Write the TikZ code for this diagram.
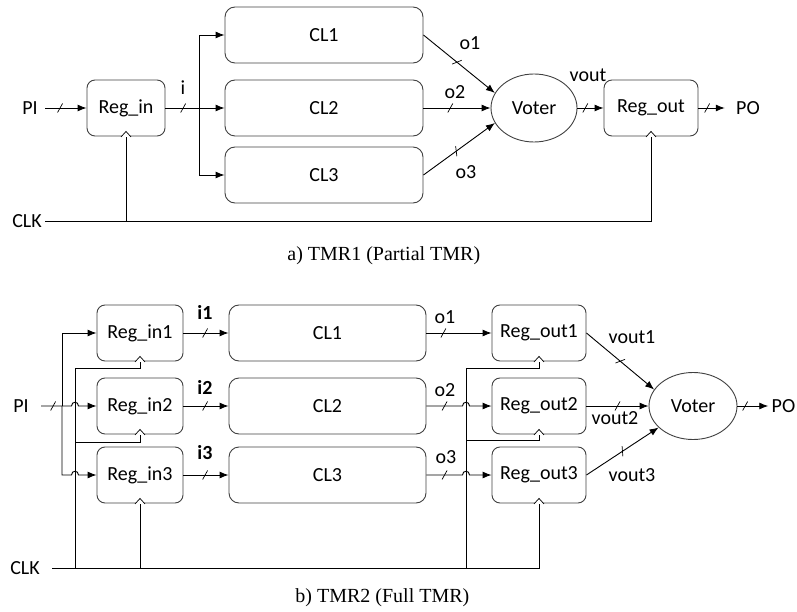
\documentclass[tikz,border=0pt]{standalone}
\usepackage{fontspec}
\setmainfont{Carlito}
\newfontfamily\capfont{Liberation Serif}
\usetikzlibrary{arrows.meta}
\usetikzlibrary{shapes.geometric}
\usetikzlibrary{decorations.markings}

\tikzset{
  reg/.style={draw=black!75, rounded corners=8pt, minimum height=56pt, inner sep=0pt},
  logic/.style={draw=black!75, rounded corners=10pt, minimum width=198pt, minimum height=56pt, inner sep=0pt},
  voter/.style={ellipse, draw=black!75, inner sep=0pt},
  io/.style={inner sep=3pt},
  arr/.style={-{Latex[length=9pt,width=7pt]}},
  busmark/.style={postaction={decorate,decoration={markings,
      mark=at position #1 with {\draw[-,line width=0.7pt] (-2.5pt,-4.5pt) -- (2.5pt,4.5pt);}}}},
  caption/.style={anchor=west, inner sep=0pt, font=\capfont\fontsize{20}{24}\selectfont}
}
\newcommand\clkin[1]{\draw[line width=0.7pt, fill=white] ([xshift=-5pt,yshift=-0.5pt]#1.south) -- ([yshift=5pt]#1.south) -- ([xshift=5pt,yshift=-0.5pt]#1.south);}

\begin{document}
\begin{tikzpicture}[x=1pt, y=-1pt, line width=0.9pt, font=\fontsize{20}{24}\selectfont]
          \useasboundingbox (0,0) rectangle (797,612);

          % a) TMR1
          \node[reg, minimum width=78pt] (regin) at (126,108) {Reg\_in};
          \node[logic] (cl1a) at (324,35) {CL1};
          \node[logic] (cl2a) at (324,108) {CL2};
          \node[logic] (cl3a) at (324,175) {CL3};
          \node[voter, minimum width=86pt, minimum height=68pt] (vota) at (534,108) {Voter};
          \node[reg, minimum width=94pt] (regouta) at (651,108) {Reg\_out};

          \node[io] (pia) at (30,108) {PI};
          \node[io] (clka) at (27,221) {CLK};
          \node[io] (poa) at (748,108) {PO};

          \node (ia) at (183,88) {i};
          \node (o1a) at (470,43) {o1};
          \node (o2a) at (455,92) {o2};
          \node (o3a) at (466,172) {o3};
          \node (vouta) at (588,75) {vout};

          \draw[arr, busmark=0.36] ([xshift=4pt]pia.east) -- (regin.west);
          \draw[arr, busmark=0.3] (regin.east) -- (cl2a.west);
          \coordinate (bra) at (199,108);
          \draw[arr] (bra) |- (cl1a.west);
          \draw[arr] (bra) |- (cl3a.west);

          \draw[arr, busmark=0.47] (cl1a.east) -- (vota.159);
          \draw[arr, busmark=0.4] (cl2a.east) -- (vota.west);
          \draw[arr, busmark=0.46] (cl3a.east) -- (vota.201);
          \draw[arr, busmark=0.3] (vota.east) -- (regouta.west);
          \draw[arr, busmark=0.33] (regouta.east) -- ([xshift=-8pt]poa.west);

          \draw (clka.east) -| (regouta.south);
          \draw (regin.south) -- (regin.south |- clka.east);
          \clkin{regin}
          \clkin{regouta}

          \node[caption] (capa) at (287,256) {a) TMR1 (Partial TMR)};

          % b) TMR2
          \node[reg, minimum width=86pt] (regi1) at (140,333) {Reg\_in1};
          \node[reg, minimum width=86pt] (regi2) at (140,406) {Reg\_in2};
          \node[reg, minimum width=86pt] (regi3) at (140,475) {Reg\_in3};
          \node[logic, minimum width=197pt] (cl1) at (327.5,333) {CL1};
          \node[logic, minimum width=197pt] (cl2) at (327.5,406) {CL2};
          \node[logic, minimum width=197pt] (cl3) at (327.5,475) {CL3};
          \node[reg, minimum width=94pt] (rego1) at (539,333) {Reg\_out1};
          \node[reg, minimum width=94pt] (rego2) at (539,406) {Reg\_out2};
          \node[reg, minimum width=94pt] (rego3) at (539,475) {Reg\_out3};
          \node[voter, minimum width=88pt, minimum height=67pt] (votb) at (693,406) {Voter};

          \node[io] (pib) at (21,406) {PI};
          \node[io] (clkb) at (25,568) {CLK};
          \node[io] (pob) at (783.5,406) {PO};

          \node (i1) at (205,312) {\textbf{i1}};
          \node (i2) at (205,387) {\textbf{i2}};
          \node (i3) at (205,453) {\textbf{i3}};
          \node (o1) at (445,317) {o1};
          \node (o2) at (445,390) {o2};
          \node (o3) at (446,457) {o3};
          \node (vout1) at (632,337) {vout1};
          \node (vout2) at (615,418) {vout2};
          \node (vout3) at (632,475) {vout3};

          \coordinate (brb) at (62,406);
          \draw[arr, busmark=0.2] ([xshift=9pt]pib.east) -- (71.5,406)
          .. controls (71.5,401) and (78.5,401) .. (78.5,406) -- (regi2.west);
          \draw[arr] (brb) |- (regi1.west);
          \draw[arr] (brb) -- (62,475) -- (71.5,475)
          .. controls (71.5,470) and (78.5,470) .. (78.5,475) -- (regi3.west);

          \draw[arr, busmark=0.48] (regi1.east) -- (cl1.west);
          \draw[arr, busmark=0.48] (regi2.east) -- (cl2.west);
          \draw[arr, busmark=0.48] (regi3.east) -- (cl3.west);

          \draw[arr, busmark=0.26] (cl1.east) -- (rego1.west);
          \draw[arr, busmark=0.26] (cl2.east) -- (462.5,406)
          .. controls (462.5,401) and (469.5,401) .. (469.5,406) -- (rego2.west);
          \draw[arr, busmark=0.26] (cl3.east) -- (462.5,475)
          .. controls (462.5,470) and (469.5,470) .. (469.5,475) -- (rego3.west);

          \draw[arr, busmark=0.5] (rego1.east) -- (votb.157);
          \draw[arr, busmark=0.5] (rego2.east) -- (votb.west);
          \draw[arr, busmark=0.5] (rego3.east) -- (votb.212);
          \draw[arr, busmark=0.25] (votb.east) -- (pob.west);

          % clock tree
          \coordinate (ckb1) at (75,568);
          \coordinate (ckb2) at (75,442);
          \coordinate (cko1) at (466,568);
          \coordinate (cko2) at (466,440);
          \draw ([xshift=9pt]clkb.east) -| (rego3.south);
          \draw (ckb1) |- ([yshift=-7pt]regi1.south) -- (regi1.south);
          \draw (ckb2) -| (regi2.south);
          \draw (regi3.south) -- (regi3.south |- ckb1);
          \draw (cko1) |- ([yshift=-7pt]rego1.south) -- (rego1.south);
          \draw (cko2) -| (rego2.south);
          \clkin{regi1} \clkin{regi2} \clkin{regi3}
          \clkin{rego1} \clkin{rego2} \clkin{rego3}

          \node[caption] (capb) at (295,598) {b) TMR2 (Full TMR)};
\end{tikzpicture}
\end{document}
